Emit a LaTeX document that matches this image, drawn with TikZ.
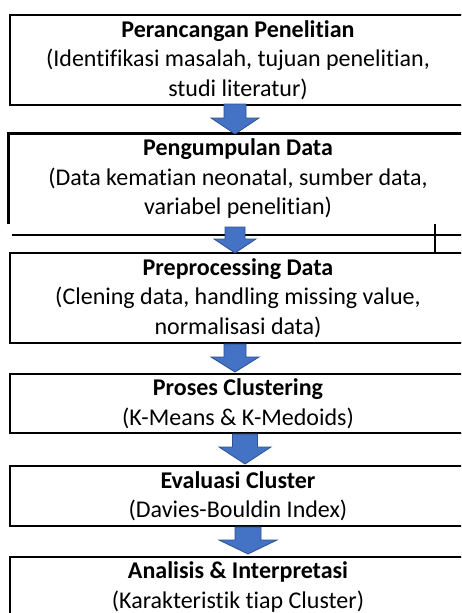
\documentclass[tikz,border=0pt]{standalone}
\usepackage{fontspec}
\setmainfont{Carlito}[RawFeature={-liga}]
\definecolor{arrowfill}{HTML}{4472C4}
\definecolor{arrowline}{HTML}{2F528F}
\tikzset{
  flowbox/.style={draw=black, line width=2.6pt, minimum width=456pt, inner sep=0pt, align=center,
    font=\fontsize{24}{29.5}\selectfont},
  openbox/.style={flowbox, draw=none},
  blockarr/.style={fill=arrowfill, draw=arrowline, line width=0.8pt, line join=miter},
  thinline/.style={draw=black, line width=1.2pt},
  thickline/.style={draw=black, line width=2.2pt}
}
\newcommand\blockarrow[6]{%
  \path[blockarr] (#1-#5,#2) -- (#1+#5,#2) -- (#1+#5,#3) -- (#1+#6,#3) -- (#1,#4) -- (#1-#6,#3) -- (#1-#5,#3) -- cycle;}
\begin{document}
\begin{tikzpicture}[x=1pt,y=-1pt]
\useasboundingbox (0,0) rectangle (461,613);
\clip (0,0) rectangle (461,613);
\fill[white] (0,0) rectangle (461,613);

\node[flowbox, minimum height=90pt] (b1) at (238,60)
  {\textbf{Perancangan Penelitian}\\(Identifikasi masalah, tujuan penelitian,\\studi literatur)};
\node[openbox, minimum height=88pt] (b2) at (238,179)
  {\textbf{Pengumpulan Data}\\(Data kematian neonatal, sumber data,\\variabel penelitian)};
\draw[line width=2.6pt] (b2.south west) -- (b2.north west) -- (b2.north east) -- (b2.south east);
\node[flowbox, minimum height=90pt] (b3) at (238,298)
  {\textbf{Preprocessing Data}\\(Clening data, handling missing value,\\normalisasi data)};
\node[flowbox, minimum height=59pt] (b4) at (238,403.5)
  {\textbf{Proses Clustering}\\(K-Means \& K-Medoids)};
\node[flowbox, minimum height=60pt] (b5) at (238,496)
  {\textbf{Evaluasi Cluster}\\(Davies-Bouldin Index)};
\node[flowbox, minimum height=60pt] (b6) at (238,587)
  {\textbf{Analisis \& Interpretasi}\\(Karakteristik tiap Cluster)};

% stray lines between box 2 and box 3
\coordinate (hl1) at (12,235);
\coordinate (hl2) at (470,235);
\draw[thinline] (hl1) -- (hl2);
\coordinate (vl1) at (435,224);
\coordinate (vl2) at (435,253);
\draw[thickline] (vl1) -- (vl2);

% block arrows: cx, top, neck, tip, shaft half width, head half width
\blockarrow{235}{104}{118}{134}{11}{24}
\blockarrow{235}{227}{239}{253}{10}{21}
\blockarrow{235}{344}{357}{372}{11}{24}
\blockarrow{245}{434}{447}{464}{12.5}{26}
\blockarrow{248}{527}{540}{554}{13}{29}
\end{tikzpicture}
\end{document}
